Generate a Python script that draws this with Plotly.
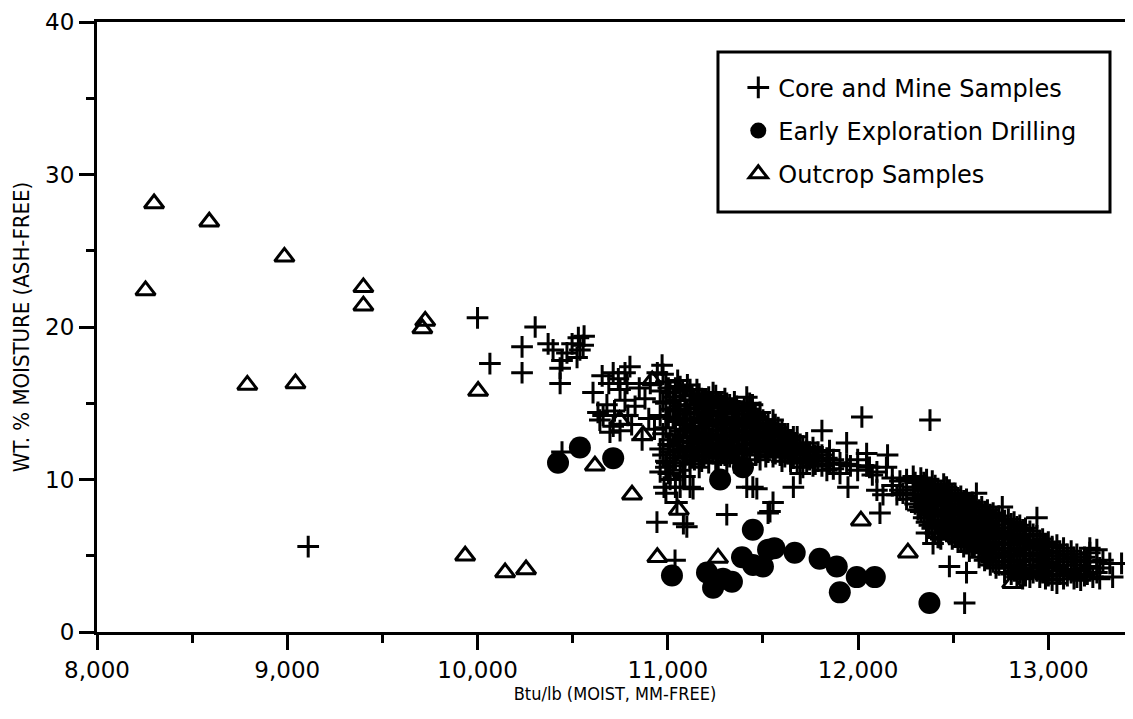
import plotly.graph_objects as go

# ---------------- data ----------------
core_x = [
    9110, 10000, 10065, 10234, 10234, 10303, 10371, 10397, 10434, 10434, 10444, 10470,
    10497, 10523, 10530, 10538, 10555, 10560, 10444,
    10607, 10633, 10660, 10643, 10713, 10740, 10775, 10801, 10749, 10828, 10696, 10749,
    10680, 10713, 10786, 10775, 10850, 10880, 10908, 10970, 10945, 10865, 10900, 10930,
    10720, 10810, 10790, 10690, 10655,
    10960, 10960, 10960, 10960,
    10990, 10990, 10990, 10990, 10990, 10990,
    11012, 11012, 11012, 11012, 11012,
    11040, 11040, 11040, 11040, 11040, 11040,
    11065, 11065, 11065, 11065, 11065, 11065,
    11090, 11090, 11090, 11090, 11090,
    11117, 11117, 11117, 11117, 11117, 11117,
    11140, 11140, 11140, 11140, 11140,
    11165, 11165, 11165, 11165, 11165,
    11190, 11190, 11190, 11190, 11190,
    11215, 11215, 11215, 11215, 11215,
    11238, 11238, 11238, 11238, 11238,
    11265, 11265, 11265, 11265, 11265,
    11290, 11290, 11290, 11290,
    11310, 11310, 11310, 11310, 11310,
    11340, 11340, 11340, 11340,
    11362, 11362, 11362, 11362, 11362,
    11390, 11390, 11390, 11390,
    11415, 11415, 11415, 11415, 11415,
    11430, 11430, 11430, 11430,
    11460, 11460, 11460, 11460,
    11485, 11485, 11485, 11485, 11485,
    11500, 11500, 11500,
    11527, 11527, 11527, 11527,
    11553, 11553, 11553, 11553,
    11580, 11580, 11580,
    11600, 11600, 11600, 11600,
    11630, 11630, 11630,
    11660, 11660, 11660, 11660,
    11680, 11680, 11680,
    11696, 11696, 11696,
    11730, 11730, 11730,
    11763, 11763, 11763,
    11790, 11790,
    11810, 11810, 11810,
    11836, 11836,
    11870, 11870,
    11905, 11905,
    11940, 11940, 11947,
    11998, 11998, 12020, 12045, 12045, 12060, 12099, 12099, 12115, 12131, 12149, 12155,
    12204, 12236, 12255, 12255, 12290, 12290, 12325, 12360, 12360, 12378, 12394, 12394,
    11447, 11553, 11527, 11415, 11310, 11537, 10943, 11082, 11048, 11038, 10980, 11117,
    11012, 11082, 10995, 11468, 11100, 11133,
    12300, 12300, 12300,
    12330, 12330, 12330, 12330,
    12360, 12360, 12360, 12360,
    12390, 12390, 12390, 12390, 12390,
    12420, 12420, 12420, 12420, 12420,
    12450, 12450, 12450, 12450, 12450,
    12480, 12480, 12480, 12480, 12480, 12480,
    12510, 12510, 12510, 12510, 12510,
    12540, 12540, 12540, 12540, 12540,
    12570, 12570, 12570, 12570, 12570, 12570,
    12600, 12600, 12600, 12600, 12600,
    12622, 12622, 12622, 12622,
    12650, 12650, 12650, 12650, 12650,
    12680, 12680, 12680, 12680, 12680,
    12710, 12710, 12710, 12710, 12710,
    12740, 12740, 12740, 12740, 12740,
    12758, 12758, 12758, 12758,
    12790, 12790, 12790, 12790, 12790,
    12820, 12820, 12820, 12820, 12820,
    12850, 12850, 12850, 12850, 12850,
    12880, 12880, 12880, 12880, 12880,
    12903, 12903, 12903, 12903, 12903,
    12940, 12940, 12940, 12940, 12940,
    12970, 12970, 12970, 12970,
    13000, 13000, 13000, 13000,
    13045, 13045, 13045, 13045,
    13080, 13080, 13080, 13080,
    13120, 13120, 13120,
    13150, 13150, 13150,
    13190, 13190, 13190,
    13218, 13218, 13218,
    13234, 13255, 13255, 13255, 13287, 13323, 13338, 13385,
    12560, 12428,
]
core_y = [
    5.6, 20.6, 17.6, 18.7, 17.0, 20.0, 18.9, 18.5, 17.3, 16.3, 17.8, 18.3,
    18.9, 18.0, 19.3, 18.5, 18.8, 19.4, 11.8,
    15.7, 14.4, 14.2, 13.9, 17.0, 16.6, 17.0, 17.4, 15.9, 14.8, 13.1, 13.2,
    14.9, 13.5, 16.3, 15.2, 16.0, 15.3, 16.3, 17.5, 17.0, 12.6, 14.0, 13.3,
    14.5, 13.6, 14.2, 16.3, 16.8,
    15.8, 14.2, 12.0, 10.5,
    16.4, 15.0, 13.4, 11.2, 10.8, 9.1,
    15.7, 14.6, 12.6, 10.0, 11.8,
    16.0, 15.2, 13.8, 12.9, 11.4, 9.5,
    16.1, 14.8, 13.2, 12.2, 10.6, 9.5,
    15.5, 14.3, 13.6, 11.5, 10.2,
    15.9, 14.9, 13.9, 12.8, 12.1, 11.0,
    15.2, 14.4, 13.1, 12.4, 11.3,
    15.6, 14.0, 13.4, 12.1, 10.8,
    15.0, 14.6, 13.0, 12.6, 11.5,
    15.4, 14.2, 13.5, 12.2, 11.1,
    15.7, 14.8, 13.7, 12.9, 11.7,
    15.1, 14.3, 13.2, 12.3, 11.4,
    14.7, 13.9, 12.8, 11.9,
    15.0, 14.1, 13.3, 12.5, 11.2,
    14.6, 13.7, 12.9, 11.8,
    14.8, 14.0, 13.1, 12.2, 11.4,
    14.3, 13.5, 12.6, 11.7,
    15.4, 14.0, 13.2, 12.3, 11.0,
    15.0, 14.6, 13.8, 12.0,
    14.2, 13.4, 12.7, 11.6,
    14.4, 13.6, 12.9, 12.1, 11.3,
    13.9, 13.0, 12.4,
    13.7, 13.1, 12.5, 11.8,
    13.9, 13.2, 12.6, 11.5,
    13.4, 12.8, 12.1,
    13.2, 12.5, 11.9, 11.2,
    13.0, 12.4, 11.7,
    12.8, 12.2, 11.4, 9.5,
    12.8, 12.0, 11.1,
    12.3, 11.6, 10.4,
    12.4, 11.9, 11.2,
    11.5, 12.1, 10.9,
    11.8, 11.2,
    13.2, 11.6, 10.9,
    10.6, 11.4,
    11.3, 10.7,
    11.1, 10.4,
    12.4, 11.0, 9.5,
    10.6, 11.3, 14.1, 11.7, 10.9, 10.8, 9.3, 10.5, 7.8, 9.0, 10.8, 11.6,
    9.0, 9.1, 10.0, 8.7, 10.2, 9.5, 8.2, 10.0, 6.5, 13.9, 9.1, 5.8,
    9.5, 8.5, 7.8, 9.5, 7.7, 7.9, 7.2, 7.1, 8.5, 4.7, 9.5, 9.5,
    10.4, 10.2, 11.1, 9.4, 6.9, 9.4,
    9.8, 9.0, 8.4,
    10.1, 9.3, 8.6, 7.9,
    9.6, 8.8, 8.1, 7.2,
    9.9, 9.2, 8.5, 7.7, 6.8,
    9.4, 8.9, 8.0, 7.3, 6.2,
    9.7, 9.0, 8.3, 7.6, 6.9,
    9.3, 8.6, 7.9, 7.1, 6.4, 4.3,
    9.1, 8.4, 7.7, 7.0, 6.3,
    8.9, 8.1, 7.4, 6.7, 5.9,
    8.7, 8.0, 7.2, 6.5, 5.8, 3.9,
    8.5, 7.8, 7.1, 6.3, 5.6,
    9.1, 7.5, 6.8, 6.0,
    8.2, 7.3, 6.6, 5.9, 5.2,
    8.0, 7.2, 6.4, 5.6, 4.9,
    7.8, 7.0, 6.2, 5.4, 4.6,
    7.6, 6.8, 6.1, 5.2, 4.4,
    8.2, 6.5, 5.8, 4.9,
    7.4, 6.6, 5.7, 5.0, 4.2,
    7.2, 6.4, 5.5, 4.7, 4.0,
    7.0, 6.2, 5.4, 4.6, 3.9,
    6.8, 6.0, 5.2, 4.4, 3.7,
    6.6, 5.8, 5.0, 4.2, 3.6,
    7.5, 6.3, 5.5, 4.8, 4.0,
    6.1, 5.4, 4.6, 3.9,
    5.9, 5.2, 4.5, 3.7,
    5.7, 5.0, 4.3, 3.2,
    5.5, 4.8, 4.1, 3.5,
    5.3, 4.6, 3.9,
    5.1, 4.4, 3.6,
    4.9, 4.2, 3.7,
    5.5, 5.2, 4.3,
    3.6, 5.4, 4.6, 3.9, 4.7, 4.5, 3.6, 4.5,
    1.9, 6.2,
]

# additional core/mine samples inside the two dense clouds
core_dense_x = [
    10975, 10975, 10975, 10975, 11003, 11003, 11003, 11003,
    11028, 11028, 11028, 11028, 11052, 11052, 11052, 11052,
    11078, 11078, 11078, 11078, 11103, 11103, 11103, 11103,
    11128, 11128, 11128, 11128, 11153, 11153, 11153, 11153,
    11178, 11178, 11178, 11178, 11203, 11203, 11203, 11203,
    11227, 11227, 11227, 11227, 11252, 11252, 11252, 11252,
    11278, 11278, 11278, 11278, 11300, 11300, 11300, 11300,
    11325, 11325, 11325, 11325, 11350, 11350, 11350, 11350,
    11375, 11375, 11375, 11375, 11402, 11402, 11402, 11402,
    11445, 11445, 11445, 11445, 11472, 11472, 11472, 11472,
    11515, 11515, 11515, 11515, 11540, 11540, 11540,
    11565, 11565, 11565, 11590, 11590, 11590, 11615, 11615, 11615,
    11645, 11645, 11645, 11670, 11670, 11710, 11710, 11710,
    11745, 11745, 11775, 11775, 11850, 11850, 11960, 12075, 12180, 12180, 12220, 12220,
    12315, 12315, 12315, 12345, 12345, 12345, 12345,
    12375, 12375, 12375, 12375, 12405, 12405, 12405, 12405, 12405,
    12435, 12435, 12435, 12435, 12435, 12465, 12465, 12465, 12465, 12465,
    12495, 12495, 12495, 12495, 12495, 12525, 12525, 12525, 12525, 12525,
    12555, 12555, 12555, 12555, 12555, 12585, 12585, 12585, 12585, 12585,
    12611, 12611, 12611, 12611, 12636, 12636, 12636, 12636, 12636,
    12665, 12665, 12665, 12665, 12665, 12695, 12695, 12695, 12695, 12695,
    12725, 12725, 12725, 12725, 12725, 12770, 12770, 12770, 12770, 12770,
    12805, 12805, 12805, 12805, 12805, 12835, 12835, 12835, 12835, 12835,
    12865, 12865, 12865, 12865, 12865, 12920, 12920, 12920, 12920,
    12955, 12955, 12955, 12955, 12985, 12985, 12985, 12985,
    13020, 13020, 13020, 13020, 13060, 13060, 13060, 13100, 13100, 13100,
    13135, 13135, 13135, 13170, 13170, 13170, 13205, 13205, 13270, 13270,
]
core_dense_y = [
    16.9, 15.1, 13.0, 11.6, 16.0, 14.1, 12.3, 10.4,
    15.4, 14.0, 12.2, 10.9, 16.5, 14.5, 12.5, 11.9,
    15.8, 13.9, 12.7, 11.1, 16.2, 14.6, 13.3, 11.8,
    15.5, 13.5, 12.5, 11.6, 15.9, 14.7, 12.8, 11.9,
    15.3, 13.7, 12.9, 11.2, 14.8, 13.8, 12.4, 11.8,
    15.1, 14.5, 12.7, 12.0, 15.5, 13.9, 12.6, 11.1,
    14.9, 13.6, 12.1, 11.6, 15.3, 14.4, 12.9, 11.6,
    14.9, 13.4, 12.2, 11.5, 15.1, 13.9, 12.6, 11.1,
    14.5, 13.8, 12.9, 12.0, 14.7, 13.6, 12.8, 11.9,
    14.9, 13.9, 13.0, 12.4, 14.0, 13.1, 12.3, 11.8,
    13.5, 12.8, 12.0, 11.5, 13.3, 12.9, 12.2,
    13.6, 12.4, 11.7, 13.0, 12.3, 11.6, 12.9, 12.1, 11.5,
    12.6, 11.9, 11.2, 12.4, 11.7, 12.1, 11.4, 10.8,
    11.8, 11.3, 11.6, 11.0, 11.9, 11.0, 10.9, 10.3, 9.6, 10.1, 9.9, 9.3,
    9.5, 8.8, 8.0, 9.8, 9.0, 8.3, 7.5,
    9.4, 8.5, 7.8, 7.0, 9.6, 8.7, 7.9, 7.1, 6.5,
    9.2, 8.6, 7.7, 7.0, 6.1, 9.5, 8.8, 8.0, 7.3, 6.6,
    9.0, 8.2, 7.5, 6.8, 6.1, 8.8, 8.0, 7.3, 6.6, 5.9,
    8.6, 7.8, 7.0, 6.2, 5.6, 8.4, 7.6, 6.9, 6.0, 5.3,
    8.3, 7.4, 6.5, 5.7, 8.0, 7.1, 6.3, 5.5, 4.9,
    7.9, 7.0, 6.2, 5.4, 4.7, 7.7, 6.8, 5.9, 5.1, 4.4,
    7.5, 6.6, 5.8, 4.9, 4.2, 7.3, 6.4, 5.5, 4.6, 3.9,
    7.1, 6.2, 5.3, 4.4, 3.8, 6.9, 6.0, 5.1, 4.3, 3.6,
    6.7, 5.8, 5.0, 4.1, 3.5, 6.4, 5.6, 4.7, 3.9,
    6.0, 5.1, 4.3, 3.6, 5.8, 5.0, 4.2, 3.5,
    5.6, 4.8, 4.0, 3.4, 5.3, 4.6, 3.8, 5.1, 4.4, 3.7,
    4.9, 4.1, 3.5, 4.7, 4.0, 3.4, 4.6, 3.8, 4.2, 3.5,
]

drill_x = [10423, 10538, 10713, 11275, 11395, 11447, 11022, 11206, 11238, 11337, 11390,
           11527, 11448, 11500, 11290, 11667, 11798, 11888, 11904, 11993, 12088, 12375, 11560]
drill_y = [11.1, 12.1, 11.4, 10.0, 10.8, 6.7, 3.7, 3.9, 2.9, 3.3, 4.9,
           5.4, 4.4, 4.3, 3.5, 5.2, 4.8, 4.3, 2.6, 3.6, 3.6, 1.9, 5.5]

outcrop_x = [8300, 8255, 8590, 8790, 8985, 9043, 9400, 9400, 9710, 9725, 10003, 9935,
             10145, 10255, 10617, 10812, 10870, 10747, 10918, 11058, 10945, 11264, 12015,
             12262, 12810]
outcrop_y = [28.1, 22.4, 26.9, 16.2, 24.6, 16.3, 22.6, 21.4, 19.9, 20.4, 15.8, 5.0,
             3.9, 4.1, 10.9, 9.0, 12.9, 13.9, 16.5, 8.0, 4.9, 4.85, 7.3,
             5.2, 3.2]

series_names = ["Core and Mine Samples", "Early Exploration Drilling", "Outcrop Samples"]
x_tick_vals = [8000, 9000, 10000, 11000, 12000, 13000]
x_tick_text = ["8,000", "9,000", "10,000", "11,000", "12,000", "13,000"]
y_tick_vals = [0, 10, 20, 30, 40]

TICK_FONT = "'DejaVu Sans', sans-serif"
TITLE_FONT = "'DejaVu Sans Condensed', 'Liberation Sans', sans-serif"

fig = go.Figure()
fig.add_trace(go.Scatter(
    x=core_x + core_dense_x, y=core_y + core_dense_y, mode="markers",
    name=series_names[0], legendgroup="a",
    marker=dict(symbol="cross-thin", size=15.5, color="black",
                line=dict(color="black", width=3)),
))
fig.add_trace(go.Scatter(
    x=drill_x, y=drill_y, mode="markers", name=series_names[1], legendgroup="b",
    marker=dict(symbol="circle", size=22, color="black", line=dict(width=0)),
))
fig.add_trace(go.Scatter(
    x=outcrop_x, y=outcrop_y, mode="markers", name=series_names[2], legendgroup="c",
    marker=dict(symbol="triangle-up-open", size=17, color="black",
                line=dict(color="black", width=3)),
))

fig.update_layout(
    width=1125, height=711,
    margin=dict(l=89, r=0, t=14, b=87),
    plot_bgcolor="white", paper_bgcolor="white",
    font=dict(family=TICK_FONT, color="black"),
    showlegend=True,
    legend=dict(
        x=0.619, xanchor="left", y=0.929, yanchor="top",
        bgcolor="rgba(0,0,0,0)", borderwidth=0,
        font=dict(size=24, family=TICK_FONT, color="black"),
        traceorder="grouped", tracegroupgap=9,
    ),
    shapes=[dict(type="rect", xref="paper", yref="paper",
                 x0=0.5994, x1=0.9778, y0=0.6885, y1=0.9508,
                 line=dict(color="black", width=3), fillcolor="white", layer="below")],
)
fig.update_xaxes(
    range=[8000, 13445], tickvals=x_tick_vals, ticktext=x_tick_text,
    showline=True, linecolor="black", linewidth=3, mirror=True,
    ticks="outside", ticklen=15, tickwidth=3, tickcolor="black",
    minor=dict(ticks="outside", ticklen=8, tickwidth=3, tickcolor="black", dtick=500, tick0=8000),
    showgrid=False, zeroline=False,
    tickfont=dict(size=23, family=TICK_FONT, color="black"),
    title=dict(text="Btu/lb (MOIST, MM-FREE)", font=dict(size=18, family=TITLE_FONT, color="black"),
               standoff=6),
)
fig.update_yaxes(
    range=[0, 40], tickvals=y_tick_vals,
    showline=True, linecolor="black", linewidth=3, mirror=False,
    ticks="outside", ticklen=15, tickwidth=3, tickcolor="black",
    minor=dict(ticks="outside", ticklen=8, tickwidth=3, tickcolor="black", dtick=5, tick0=0),
    showgrid=False, zeroline=False,
    tickfont=dict(size=23, family=TICK_FONT, color="black"),
    title=dict(text="WT. % MOISTURE (ASH-FREE)", font=dict(size=22, family=TITLE_FONT, color="black"),
               standoff=10),
)

fig.write_html("out.html")
